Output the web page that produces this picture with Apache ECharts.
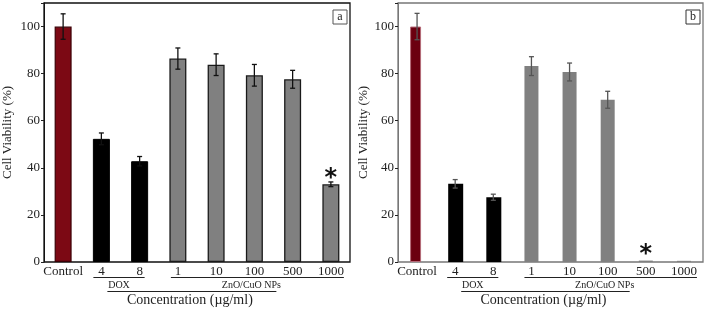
<!DOCTYPE html>
<html>
<head>
<meta charset="utf-8">
<script src="https://cdn.jsdelivr.net/npm/echarts@6/dist/echarts.min.js"></script>
<style>
  html, body { margin: 0; padding: 0; background: #fff; }
  #chart { width: 708px; height: 310px; }
</style>
</head>
<body>
<div id="chart"></div>
<script>
// categories and groups
const categories = ['Control', '4', '8', '1', '10', '100', '500', '1000']
const groupOf = ['control', 'dox', 'dox', 'zno', 'zno', 'zno', 'zno', 'zno']
const yTicks = [0, 20, 40, 60, 80, 100]

// panel a
const viabilityA = [100, 52.3, 42.8, 86.4, 83.8, 79.3, 77.6, 33.0]
const errorA = [5.4, 2.5, 2.0, 4.5, 4.6, 4.6, 3.8, 1.0]
const starA = ['-', '-', '-', '-', '-', '-', '-', 38]

// panel b
const viabilityB = [100, 33.2, 27.5, 83.2, 80.7, 68.9, 0.6, 0.5]
const errorB = [5.6, 1.8, 1.3, 4.0, 3.8, 3.6, 0, 0]
const starB = ['-', '-', '-', '-', '-', '-', 5.5, '-']

const FONT = '"Liberation Serif", "DejaVu Serif", serif'

function pick(values, group) {
  return values.map((v, i) => (groupOf[i] === group ? v : '-'))
}

function errorSeries(idx, values, errors, color) {
  return {
    type: 'custom',
    xAxisIndex: idx,
    yAxisIndex: idx,
    z: 5,
    silent: true,
    renderItem(params, api) {
      const x = api.value(0)
      const v = api.value(1)
      const e = api.value(2)
      if (!e) return
      const top = api.coord([x, v + e])
      const bot = api.coord([x, v - e])
      const style = { stroke: color, lineWidth: 1.3 }
      return {
        type: 'group',
        children: [
          { type: 'line', shape: { x1: top[0], y1: top[1], x2: bot[0], y2: bot[1] }, style },
          { type: 'line', shape: { x1: top[0] - 2.5, y1: top[1], x2: top[0] + 2.5, y2: top[1] }, style },
          { type: 'line', shape: { x1: bot[0] - 2.5, y1: bot[1], x2: bot[0] + 2.5, y2: bot[1] }, style }
        ]
      }
    },
    data: values.map((v, i) => [i, v, errors[i]])
  }
}

function starSeries(idx, stars) {
  return {
    type: 'custom',
    xAxisIndex: idx,
    yAxisIndex: idx,
    z: 6,
    silent: true,
    renderItem(params, api) {
      const p = api.coord([api.value(0), api.value(1)])
      return {
        type: 'text',
        style: {
          text: '*',
          x: p[0],
          y: p[1] + 6,
          font: 'bold 24px "DejaVu Sans", sans-serif',
          fill: '#111',
          align: 'center',
          verticalAlign: 'middle'
        }
      }
    },
    data: stars.map((v, i) => [i, v]).filter(d => d[1] !== '-')
  }
}

function barSeries(idx, values, group, color, border, borderWidth, width) {
  return {
    type: 'bar',
    xAxisIndex: idx,
    yAxisIndex: idx,
    barWidth: width,
    barGap: '-100%',
    itemStyle: { color, borderColor: border, borderWidth },
    data: pick(values, group)
  }
}

function xAxis(idx) {
  return {
    type: 'category',
    gridIndex: idx,
    data: categories,
    axisTick: { show: false },
    axisLine: { show: false },
    axisLabel: { color: '#222', fontFamily: FONT, fontSize: 13, margin: 3, interval: 0, hideOverlap: false }
  }
}

function yAxis(idx, lineColor, gap) {
  return {
    type: 'value',
    gridIndex: idx,
    min: 0,
    max: 110,
    interval: 20,
    name: 'Cell Viability (%)',
    nameLocation: 'middle',
    nameGap: gap,
    nameTextStyle: { color: '#222', fontFamily: FONT, fontSize: 13 },
    axisLine: { show: true, lineStyle: { color: lineColor } },
    axisTick: { show: true, length: 3, lineStyle: { color: '#222' } },
    splitLine: { show: false },
    axisLabel: {
      color: '#222',
      fontFamily: FONT,
      fontSize: 13,
      margin: 4,
      formatter: v => (yTicks.includes(v) ? String(v) : '')
    }
  }
}

const chart = echarts.init(document.getElementById('chart'))
const option = {
  animation: false,
  grid: [
    { left: 40, right: 358, top: 3, bottom: 48, show: true, borderColor: '#111', borderWidth: 1.3 },
    { left: 398, right: 5, top: 3, bottom: 48, show: true, borderColor: '#777', borderWidth: 1.3 }
  ],
  xAxis: [xAxis(0), xAxis(1)],
  yAxis: [yAxis(0, '#111', 30), yAxis(1, '#777', 28)],
  series: [
    barSeries(0, viabilityA, 'control', '#7c0914', '#3b0006', 1.2, 17),
    barSeries(0, viabilityA, 'dox', '#000', '#000', 1, 17),
    barSeries(0, viabilityA, 'zno', '#808080', '#1a1a1a', 1.3, 17),
    errorSeries(0, viabilityA, errorA, '#111'),
    starSeries(0, starA),
    barSeries(1, viabilityB, 'control', '#6c0010', '#b56a78', 1, 11),
    barSeries(1, viabilityB, 'dox', '#000', '#000', 0, 15),
    barSeries(1, viabilityB, 'zno', '#808080', '#808080', 0, 14),
    errorSeries(1, viabilityB, errorB, '#555'),
    starSeries(1, starB)
  ]
}
chart.setOption(option)

// group brackets under the category labels, placed from the axis positions
function cx(idx, name) {
  return chart.convertToPixel({ xAxisIndex: idx }, name)
}

function annotations(idx, letter, boxColor) {
  const g = []
  const lineStyle = { stroke: '#222', lineWidth: 1 }
  const doxL = cx(idx, '4') - 8
  const doxR = cx(idx, '8') + 5
  const znoL = cx(idx, '1') - 7
  const znoR = cx(idx, '1000') + 13
  const concL = cx(idx, '4') + 6
  const concR = cx(idx, '100') + 22
  g.push({ type: 'line', shape: { x1: doxL, y1: 277.5, x2: doxR, y2: 277.5 }, style: lineStyle })
  g.push({ type: 'line', shape: { x1: znoL, y1: 277.5, x2: znoR, y2: 277.5 }, style: lineStyle })
  g.push({ type: 'line', shape: { x1: concL, y1: 291.5, x2: concR, y2: 291.5 }, style: lineStyle })
  g.push({
    type: 'text',
    style: { text: 'DOX', x: (doxL + doxR) / 2, y: 285, align: 'center', verticalAlign: 'middle', font: '10px ' + FONT, fill: '#222' }
  })
  g.push({
    type: 'text',
    style: { text: 'ZnO/CuO NPs', x: (znoL + znoR) / 2 - 6, y: 285, align: 'center', verticalAlign: 'middle', font: '10px ' + FONT, fill: '#222' }
  })
  g.push({
    type: 'text',
    style: { text: 'Concentration (µg/ml)', x: (concL + concR) / 2 - 2, y: 300, align: 'center', verticalAlign: 'middle', font: '14px ' + FONT, fill: '#222' }
  })
  // panel letter box
  const rect = chart.getModel().getComponent('grid', idx).coordinateSystem.getRect()
  const bx = rect.x + rect.width - 17
  g.push({ type: 'rect', shape: { x: bx, y: 10, width: 14, height: 14 }, style: { fill: '#fff', stroke: boxColor, lineWidth: 1 } })
  g.push({
    type: 'text',
    style: { text: letter, x: bx + 7, y: 17, align: 'center', verticalAlign: 'middle', font: '12px ' + FONT, fill: '#222' }
  })
  return g
}

chart.setOption({
  graphic: annotations(0, 'a', '#555').concat(annotations(1, 'b', '#333'))
})
</script>
</body>
</html>
